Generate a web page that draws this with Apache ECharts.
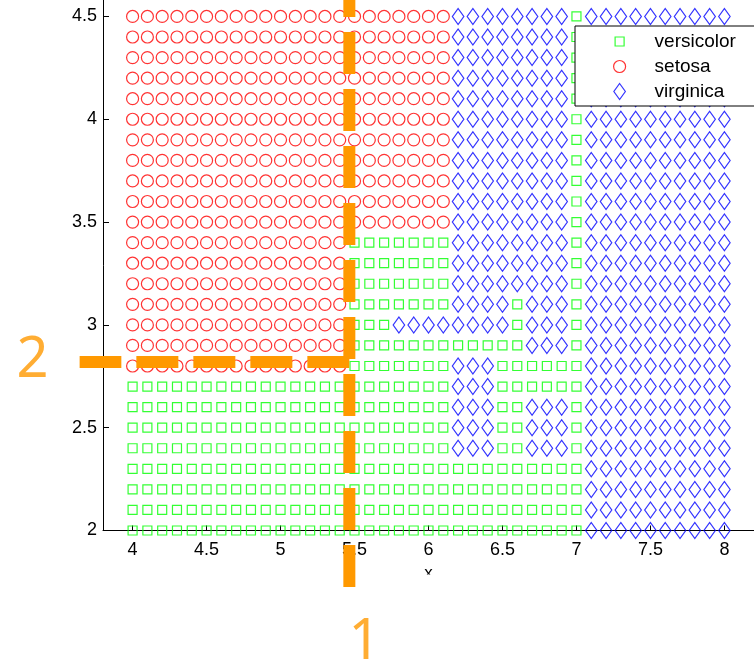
<!DOCTYPE html>
<html>
<head>
<meta charset="utf-8">
<script src="https://cdn.jsdelivr.net/npm/echarts@6/dist/echarts.min.js"></script>
<style>
  html, body { margin: 0; padding: 0; background: #fff; }
  #chart { width: 754px; height: 663px; }
</style>
</head>
<body>
<div id="chart"></div>
<script>
// Sampling grid of the classifier (sepal length on x, sepal width on y)
const gridX = [4.0, 4.1, 4.2, 4.3, 4.4, 4.5, 4.6, 4.7, 4.8, 4.9,
               5.0, 5.1, 5.2, 5.3, 5.4, 5.5, 5.6, 5.7, 5.8, 5.9,
               6.0, 6.1, 6.2, 6.3, 6.4, 6.5, 6.6, 6.7, 6.8, 6.9,
               7.0, 7.1, 7.2, 7.3, 7.4, 7.5, 7.6, 7.7, 7.8, 7.9, 8.0];
const gridY = [4.5, 4.4, 4.3, 4.2, 4.1, 4.0, 3.9, 3.8, 3.7, 3.6, 3.5, 3.4, 3.3,
               3.2, 3.1, 3.0, 2.9, 2.8, 2.7, 2.6, 2.5, 2.4, 2.3, 2.2, 2.1, 2.0];

// Legend order of the classes
const classNames = ['versicolor', 'setosa', 'virginica'];
const classKeys = { c: 'versicolor', s: 'setosa', v: 'virginica' };

// Predicted class along each grid row (top row first), as runs of [class key, count]
const predictedRuns = [
  [['s', 22], ['v', 8], ['c', 1], ['v', 10]],                                   // 4.5
  [['s', 22], ['v', 8], ['c', 1], ['v', 10]],                                   // 4.4
  [['s', 22], ['v', 8], ['c', 1], ['v', 10]],                                   // 4.3
  [['s', 22], ['v', 8], ['c', 1], ['v', 10]],                                   // 4.2
  [['s', 22], ['v', 8], ['c', 1], ['v', 10]],                                   // 4.1
  [['s', 22], ['v', 8], ['c', 1], ['v', 10]],                                   // 4.0
  [['s', 22], ['v', 8], ['c', 1], ['v', 10]],                                   // 3.9
  [['s', 22], ['v', 8], ['c', 1], ['v', 10]],                                   // 3.8
  [['s', 22], ['v', 8], ['c', 1], ['v', 10]],                                   // 3.7
  [['s', 22], ['v', 8], ['c', 1], ['v', 10]],                                   // 3.6
  [['s', 22], ['v', 8], ['c', 1], ['v', 10]],                                   // 3.5
  [['s', 15], ['c', 7], ['v', 8], ['c', 1], ['v', 10]],                         // 3.4
  [['s', 15], ['c', 7], ['v', 8], ['c', 1], ['v', 10]],                         // 3.3
  [['s', 15], ['c', 7], ['v', 8], ['c', 1], ['v', 10]],                         // 3.2
  [['s', 15], ['c', 7], ['v', 4], ['c', 1], ['v', 3], ['c', 1], ['v', 10]],     // 3.1
  [['s', 15], ['c', 3], ['v', 8], ['c', 1], ['v', 3], ['c', 1], ['v', 10]],     // 3.0
  [['s', 15], ['c', 12], ['v', 3], ['c', 1], ['v', 10]],                        // 2.9
  [['s', 15], ['c', 7], ['v', 3], ['c', 6], ['v', 10]],                         // 2.8
  [['c', 22], ['v', 3], ['c', 6], ['v', 10]],                                   // 2.7
  [['c', 22], ['v', 3], ['c', 2], ['v', 3], ['c', 1], ['v', 10]],               // 2.6
  [['c', 22], ['v', 3], ['c', 2], ['v', 3], ['c', 1], ['v', 10]],               // 2.5
  [['c', 22], ['v', 3], ['c', 2], ['v', 3], ['c', 1], ['v', 10]],               // 2.4
  [['c', 31], ['v', 10]],                                                       // 2.3
  [['c', 31], ['v', 10]],                                                       // 2.2
  [['c', 31], ['v', 10]],                                                       // 2.1
  [['c', 31], ['v', 10]]                                                        // 2.0
];

// Axis tick values
const xTicks = [4, 4.5, 5, 5.5, 6, 6.5, 7, 7.5, 8];
const yTicks = [2, 2.5, 3, 3.5, 4, 4.5];

// Tree split thresholds and their numbered annotations
const splitX = 5.465;
const splitY = 2.82;
const splitLabels = ['1', '2'];

// Expand the runs into point lists per class
const points = { versicolor: [], setosa: [], virginica: [] };
predictedRuns.forEach((runs, r) => {
  let col = 0;
  runs.forEach(([key, count]) => {
    for (let i = 0; i < count; i++) {
      points[classKeys[key]].push([gridX[col], gridY[r]]);
      col++;
    }
  });
});

const classColor = { versicolor: '#00ff00', setosa: '#ff0000', virginica: '#0000ff' };
const classSymbol = { versicolor: 'rect', setosa: 'circle', virginica: 'diamond' };
const classSize = { versicolor: 9, setosa: 12, virginica: [11.5, 16] };
// Legend icons drawn in a 16x16 box so they keep the marker sizes
const classIcon = {
  versicolor: 'path://M0,0M16,16M3.5,3.5H12.5V12.5H3.5Z',
  setosa: 'path://M0,0M16,16M2,8A6,6,0,1,1,14,8A6,6,0,1,1,2,8Z',
  virginica: 'path://M0,0M16,16M8,0L13.75,8L8,16L2.25,8Z'
};

const font = 'Liberation Sans, Arial, Helvetica, sans-serif';
const orange = '#ff9900';
const markerWidth = 1.2;

const classSeries = classNames.map(name => ({
  name: name,
  type: 'scatter',
  data: points[name],
  symbol: classSymbol[name],
  symbolSize: classSize[name],
  itemStyle: { color: 'rgba(0,0,0,0)', borderColor: classColor[name], borderWidth: markerWidth },
  emphasis: { disabled: true },
  silent: true,
  z: 2
}));

// Split segments: [x1, y1, x2, y2]; the dash pattern starts at the first end
const splitSegments = [
  [splitX, 1.725, splitX, 4.75],
  [splitX, splitY, 3.642, splitY]
];

const chart = echarts.init(document.getElementById('chart'));
chart.setOption({
  animation: false,
  backgroundColor: '#fff',
  grid: { left: 103, right: -1, top: 0, bottom: 132.5, containLabel: false },
  xAxis: {
    type: 'value', min: 3.8, max: 8.2,
    name: 'x', nameLocation: 'middle', nameGap: 33,
    nameTextStyle: { color: '#000', fontSize: 17, fontFamily: font },
    axisLine: { show: true, onZero: false, lineStyle: { color: '#000', width: 1 } },
    axisTick: { show: true, inside: true, length: 5, customValues: xTicks, lineStyle: { color: '#000' } },
    axisLabel: { customValues: xTicks, color: '#000', fontSize: 18, fontFamily: font, margin: 11 },
    splitLine: { show: false }
  },
  yAxis: {
    type: 'value', min: 2, max: 4.58,
    axisLine: { show: true, onZero: false, lineStyle: { color: '#000', width: 1 } },
    axisTick: { show: true, inside: true, length: 6, customValues: yTicks, lineStyle: { color: '#000' } },
    axisLabel: { customValues: yTicks, color: '#000', fontSize: 18, fontFamily: font, margin: 6 },
    splitLine: { show: false }
  },
  legend: {
    orient: 'vertical', left: 575, top: 26,
    data: classNames.map(name => ({ name: name, icon: classIcon[name] })),
    itemWidth: 16, itemHeight: 16, itemGap: 6,
    padding: [6, 50, 5, 36],
    backgroundColor: '#fff', borderColor: '#000', borderWidth: 1, borderRadius: 0,
    itemStyle: { borderWidth: markerWidth },
    textStyle: { fontSize: 19, lineHeight: 19, color: '#000', fontFamily: font, padding: [0, 0, 0, 22] },
    selectedMode: false
  },
  graphic: [{
    // white band below the axis title
    type: 'rect', shape: { x: 410, y: 574.5, width: 40, height: 20 },
    style: { fill: '#fff' }, z: 50, silent: true
  }],
  series: classSeries.concat([
    {
      type: 'custom', clip: false, silent: true, z: 10,
      data: splitSegments,
      encode: { x: [0, 2], y: [1, 3] },
      renderItem: (params, api) => {
        const p1 = api.coord([api.value(0), api.value(1)]);
        const p2 = api.coord([api.value(2), api.value(3)]);
        return {
          type: 'line',
          shape: { x1: p1[0], y1: p1[1], x2: p2[0], y2: p2[1] },
          style: { stroke: orange, lineWidth: 12, lineDash: [42, 15], lineCap: 'butt', fill: null }
        };
      }
    },
    {
      type: 'scatter', clip: false, silent: true, z: 60,
      data: [[5.567, 1.455, splitLabels[0]], [3.324, 2.825, splitLabels[1]]],
      symbolSize: 0,
      label: {
        show: true, position: 'inside', formatter: p => p.value[2],
        color: orange, fontSize: 56, fontFamily: 'Noto Sans, Open Sans, sans-serif', fontWeight: 'normal'
      }
    }
  ])
});
</script>
</body>
</html>
